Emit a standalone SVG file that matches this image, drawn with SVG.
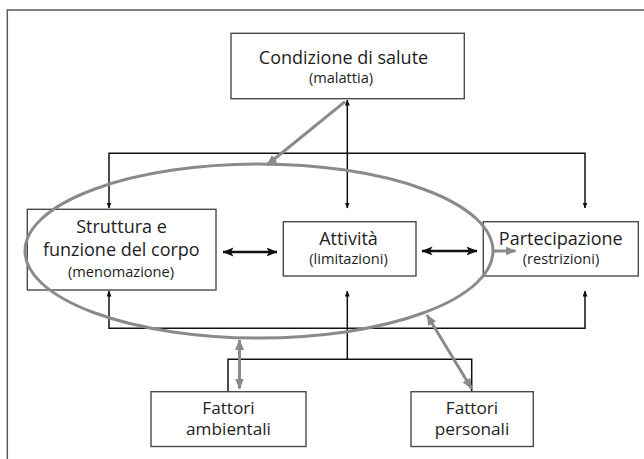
<svg xmlns="http://www.w3.org/2000/svg" width="644" height="459" viewBox="0 0 644 459">
  <defs>
    <style>
      .box { fill: #ffffff; stroke: #4a4a4a; stroke-width: 1.4; }
      .lbl { font-family: "Open Sans", "Noto Sans", "Liberation Sans", sans-serif; font-size: 18px; fill: #1e1e1e; text-anchor: middle; }
      .sub { font-size: 14.6px; }
      .low { font-size: 17.2px; }
      .wire { fill: none; stroke: #111111; stroke-width: 1.5; }
      .bold { fill: none; stroke: #111111; stroke-width: 2.6; }
      .grey { fill: none; stroke: #8a8a8a; stroke-width: 3; }
      .frame { fill: none; stroke: #5a5a5a; stroke-width: 1.5; }
    </style>
    <marker id="tip" markerUnits="userSpaceOnUse" markerWidth="6" markerHeight="6" refX="5.5" refY="2.5" orient="auto-start-reverse">
      <path d="M0,0 L6,2.5 L0,5 z" fill="#111111"/>
    </marker>
    <marker id="bigTip" markerUnits="userSpaceOnUse" markerWidth="12" markerHeight="10" refX="10.5" refY="4.5" orient="auto-start-reverse">
      <path d="M0,0 L11,4.5 L0,9 L2.5,4.5 z" fill="#111111"/>
    </marker>
    <marker id="greyTip" markerUnits="userSpaceOnUse" markerWidth="12" markerHeight="10" refX="10" refY="4.5" orient="auto-start-reverse">
      <path d="M0,0 L11,4.5 L0,9 z" fill="#8a8a8a"/>
    </marker>
  </defs>

  <rect width="644" height="459" fill="#ffffff"/>
  <path class="frame" d="M644,10 H7.3 V459"/>

  <!-- black connectors -->
  <g id="connectors">
    <path class="wire" d="M347.3,100 V208" marker-start="url(#tip)" marker-end="url(#tip)"/>
    <path class="wire" d="M109,208 V153.3 H585 V208" marker-start="url(#tip)" marker-end="url(#tip)"/>
    <path class="wire" d="M109,291 V328.3 H585 V291" marker-start="url(#tip)" marker-end="url(#tip)"/>
    <path class="wire" d="M347.3,359.3 V291" marker-end="url(#tip)"/>
    <path class="wire" d="M228,391.7 V359.3 H471.7 V391.7"/>
    <path class="bold" d="M223,252 H277" marker-start="url(#bigTip)" marker-end="url(#bigTip)"/>
    <path class="bold" d="M422,251 H477" marker-start="url(#bigTip)" marker-end="url(#bigTip)"/>
  </g>

  <g id="salute">
    <rect class="box" x="231" y="33.3" width="233.3" height="65.4"/>
    <text class="lbl" x="343.5" y="64">Condizione di salute</text>
    <text class="lbl sub" x="341" y="83.3">(malattia)</text>
  </g>

  <g id="struttura">
    <rect class="box" x="27.3" y="209.3" width="188.7" height="80.7"/>
    <text class="lbl" x="121.5" y="232.5">Struttura e<tspan x="121.3" dy="23.5">funzione del corpo</tspan></text>
    <text class="lbl sub" x="121" y="276.5">(menomazione)</text>
  </g>

  <g id="attivita">
    <rect class="box" x="283.3" y="221.7" width="132.7" height="54.3"/>
    <text class="lbl" x="348.5" y="245">Attività</text>
    <text class="lbl sub" x="348.5" y="264.3">(limitazioni)</text>
  </g>

  <g id="partecipazione">
    <rect class="box" x="483.3" y="221.7" width="155" height="54.3"/>
    <text class="lbl" x="560.8" y="245">Partecipazione</text>
    <text class="lbl sub" x="561" y="264.3">(restrizioni)</text>
  </g>

  <g id="ambientali">
    <rect class="box" x="151" y="391.7" width="155" height="54.8"/>
    <text class="lbl low" x="228.5" y="413.8">Fattori</text>
    <text class="lbl low" x="228.5" y="434.8">ambientali</text>
  </g>

  <g id="personali">
    <rect class="box" x="411" y="391.7" width="122.3" height="54.8"/>
    <text class="lbl low" x="472" y="413.8">Fattori</text>
    <text class="lbl low" x="472" y="434.8">personali</text>
  </g>

  <!-- grey enclosure and its arrows -->
  <g id="enclosure">
    <ellipse class="grey" cx="259" cy="251" rx="234" ry="87"/>
    <path class="grey" d="M345,101.7 L267,165" marker-end="url(#greyTip)"/>
    <path class="grey" d="M239.5,340 V388.5" marker-start="url(#greyTip)" marker-end="url(#greyTip)"/>
    <path class="grey" d="M427,315 L471.5,388.5" marker-start="url(#greyTip)" marker-end="url(#greyTip)"/>
    <path class="grey" d="M494,251 H515.5" marker-end="url(#greyTip)"/>
  </g>
</svg>
